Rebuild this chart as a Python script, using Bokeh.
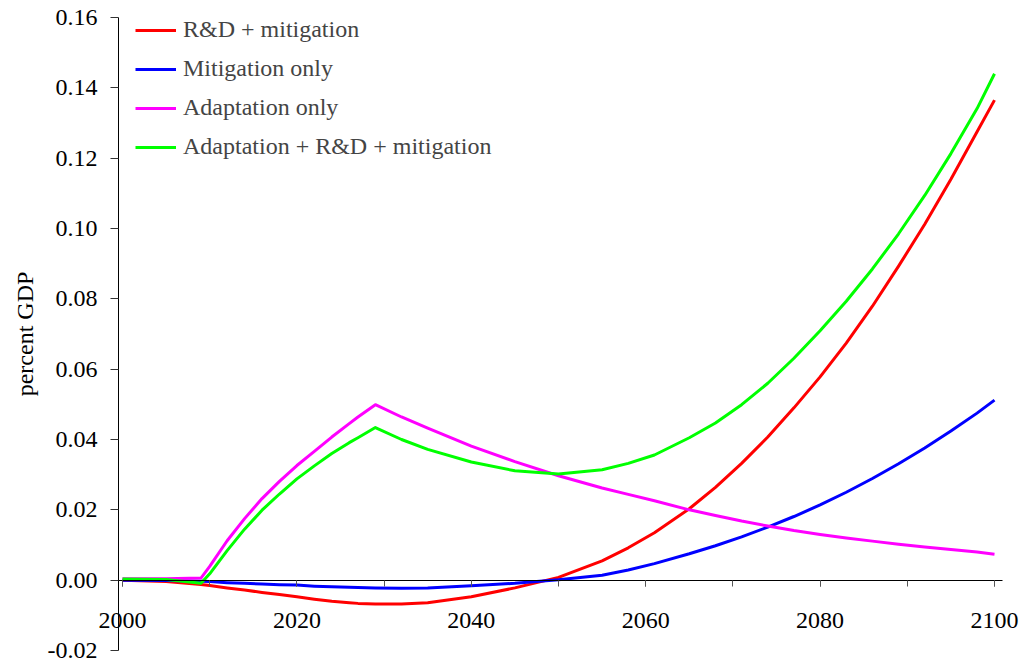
from bokeh.plotting import figure
from bokeh.models import (Range1d, SingleIntervalTicker, NumeralTickFormatter,
                          Legend, LegendItem, LinearAxis)
from bokeh.embed import file_html
from bokeh.resources import INLINE

years = [2000, 2005, 2009, 2010, 2012, 2014, 2016, 2018, 2020, 2022, 2024, 2026,
         2027, 2029, 2032, 2035, 2040, 2045, 2050, 2055, 2058, 2061, 2065, 2068,
         2071, 2074, 2077, 2080, 2083, 2086, 2089, 2092, 2095, 2098, 2100]

rd_mitigation = [0.0000, -0.0004, -0.0012, -0.0015, -0.0022, -0.0028, -0.0035, -0.0041,
                 -0.0047, -0.0054, -0.0060, -0.0064, -0.0066, -0.0068, -0.0068, -0.0064,
                 -0.0047, -0.0022, 0.0008, 0.0055, 0.0092, 0.0135, 0.0203, 0.0264,
                 0.0332, 0.0407, 0.0490, 0.0578, 0.0674, 0.0779, 0.0893, 0.1012,
                 0.1140, 0.1275, 0.1365]

mitigation_only = [0.0000, -0.0001, -0.0003, -0.0004, -0.0007, -0.0009, -0.0011, -0.0013,
                   -0.0014, -0.0017, -0.0019, -0.0020, -0.0021, -0.0022, -0.0023, -0.0022,
                   -0.0016, -0.0009, 0.0001, 0.0014, 0.0029, 0.0047, 0.0075, 0.0098,
                   0.0123, 0.0151, 0.0181, 0.0214, 0.0250, 0.0289, 0.0331, 0.0376,
                   0.0424, 0.0475, 0.0512]

adaptation_only = [0.0004, 0.0004, 0.0006, 0.0039, 0.0112, 0.0175, 0.0232, 0.0281,
                   0.0326, 0.0366, 0.0407, 0.0445, 0.0464, 0.0499, 0.0464, 0.0432,
                   0.0381, 0.0337, 0.0297, 0.0262, 0.0244, 0.0226, 0.0200, 0.0184,
                   0.0168, 0.0154, 0.0141, 0.0130, 0.0120, 0.0111, 0.0102, 0.0094,
                   0.0087, 0.0080, 0.0074]

adapt_rd_mitigation = [0.0003, 0.0002, -0.0009, 0.0018, 0.0084, 0.0145, 0.0199, 0.0245,
                       0.0288, 0.0325, 0.0360, 0.0391, 0.0405, 0.0434, 0.0400, 0.0372,
                       0.0336, 0.0311, 0.0302, 0.0314, 0.0332, 0.0356, 0.0405, 0.0447,
                       0.0499, 0.0560, 0.0631, 0.0709, 0.0793, 0.0885, 0.0985, 0.1094,
                       0.1213, 0.1341, 0.1440]

series_names = ["R&D + mitigation", "Mitigation only", "Adaptation only",
                "Adaptation + R&D + mitigation"]
series_colors = ["#FF0000", "#0000FF", "#FF00FF", "#00FF00"]
series_values = [rd_mitigation, mitigation_only, adaptation_only, adapt_rd_mitigation]

y_min, y_max, y_step = -0.02, 0.16, 0.02
x_min, x_max, x_step = 2000, 2100, 20

FONT = "'Liberation Serif'"
W, H = 1023, 664

# pixel layout of the plotting area (frame spans the whole canvas so the
# axes, drawn at fixed locations, are never clipped)
px_per_year = 8.72
x0_px = 122
ytop_px, ybot_px = 17, 650
px_per_unit = (ybot_px - ytop_px) / (y_max - y_min)

x_start = x_min - x0_px / px_per_year
x_end = x_min + (W - x0_px) / px_per_year
y_end = y_max + ytop_px / px_per_unit
y_start = y_min - (H - ybot_px) / px_per_unit
yaxis_x = x_min - 4 / px_per_year
xaxis_end = x_min + 880 / px_per_year

p = figure(width=W, height=H, output_backend="svg", toolbar_location=None,
           x_range=Range1d(x_start, x_end), y_range=Range1d(y_start, y_end),
           x_axis_location=None, y_axis_location=None, min_border=0)
p.outline_line_color = None
p.background_fill_color = "white"
p.border_fill_color = "white"

xa = LinearAxis()
ya = LinearAxis()
p.add_layout(xa, "below")
p.add_layout(ya, "left")
p.xgrid.visible = False
p.ygrid.visible = False

renderers = []
for vals, col in zip(series_values, series_colors):
    r = p.line(years, vals, line_color=col, line_width=3, line_join="round")
    renderers.append(r)

xa.fixed_location = 0
xa.bounds = (yaxis_x, xaxis_end)
xa.ticker = SingleIntervalTicker(interval=x_step, num_minor_ticks=2)
xa.axis_line_color = "black"
xa.axis_line_width = 1
xa.major_tick_in = 0
xa.major_tick_out = 6
xa.minor_tick_in = 0
xa.minor_tick_out = 6
xa.major_tick_line_color = "#555555"
xa.minor_tick_line_color = "#555555"
xa.major_label_text_font = FONT
xa.major_label_text_font_size = "24px"
xa.major_label_text_color = "black"
xa.major_label_standoff = 27

ya.fixed_location = yaxis_x
ya.bounds = (y_min, y_max)
ya.ticker = SingleIntervalTicker(interval=y_step, num_minor_ticks=0)
ya.formatter = NumeralTickFormatter(format="0.00")
ya.axis_line_color = "black"
ya.major_tick_in = 0
ya.major_tick_out = 8
ya.major_tick_line_color = "#333333"
ya.minor_tick_line_color = None
ya.major_label_text_font = FONT
ya.major_label_text_font_size = "24px"
ya.major_label_text_color = "black"
ya.major_label_standoff = 13
ya.axis_label = "percent GDP"
ya.axis_label_text_font = FONT
ya.axis_label_text_font_size = "24px"
ya.axis_label_text_font_style = "normal"
ya.axis_label_text_color = "black"
ya.axis_label_standoff = 7

legend = Legend(items=[LegendItem(label=n, renderers=[r]) for n, r in zip(series_names, renderers)],
                location=(135, 504), orientation="vertical",
                label_text_font=FONT, label_text_font_size="24px",
                glyph_width=41, glyph_height=24, label_height=24,
                label_standoff=7, spacing=12, padding=0, margin=0,
                border_line_color=None, background_fill_alpha=0)
p.add_layout(legend)

open("out.html", "w").write(file_html(p, INLINE))
